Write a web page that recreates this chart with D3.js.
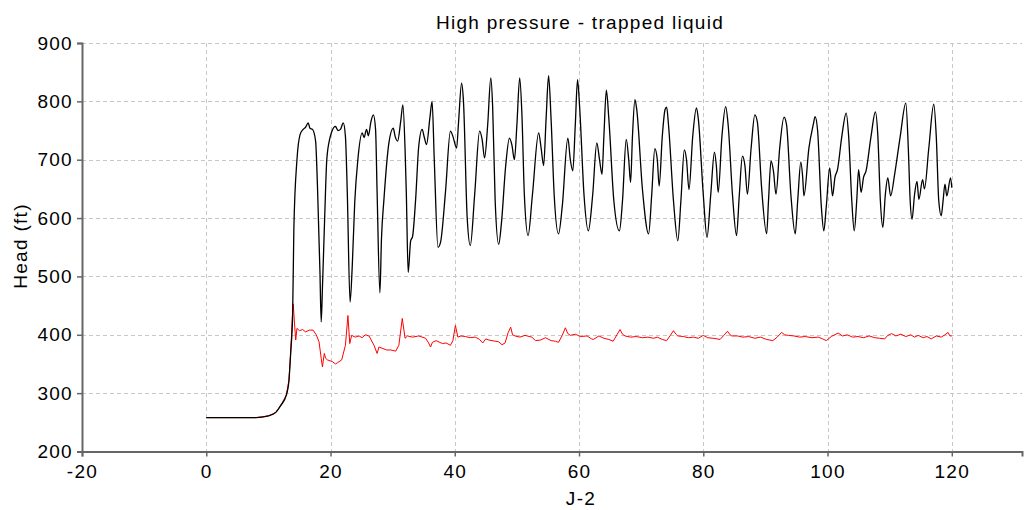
<!DOCTYPE html>
<html lang="en">
<head>
    <meta charset="UTF-8">
    <title>High pressure - trapped liquid</title>
    <script src="https://d3js.org/d3.v7.min.js"></script>
    <style>
        body, html {
            margin: 0;
            padding: 0;
            background: #fff;
        }
        svg text {
            font-family: "Liberation Sans", Arial, sans-serif;
            font-size: 19px;
            letter-spacing: 1.3px;
            fill: #000;
        }
    </style>
</head>
<body>
    <script>
        // Chart text
        const chartTitle = "High pressure - trapped liquid";
        const xLabel = "J-2";
        const yLabel = "Head (ft)";

        // Tick values
        const xTicks = [-20, 0, 20, 40, 60, 80, 100, 120];
        const yTicks = [200, 300, 400, 500, 600, 700, 800, 900];

        // Black series: [time, head]
        const blackSeries = [
            [0,258],[8,258],[10,261],[11.2,267],[12,279],[12.9,297],[13.3,320],[13.6,371],[13.9,433],
            [14.1,581],[14.6,700],[15.1,743],[15.6,752],[16.0,756],[16.4,763],[16.7,754],[17.1,752],
            [17.6,732],[17.9,655],[18.3,508],[18.5,422],[18.7,480],[19.07,604],[19.4,700],[19.9,737],
            [20.2,748],[20.8,757],[21.2,750],[21.6,752],[22.05,763],[22.4,740],[22.7,644],[23.15,456],
            [23.5,518],[23.9,627],[24.4,700],[25.1,746],[25.4,738],[25.8,752],[26.1,741],[26.5,765],
            [26.9,777],[27.25,752],[27.5,644],[27.95,472],[28.2,564],[28.6,632],[29.4,729],[30.1,754],
            [30.4,740],[30.8,732],[31.3,766],[31.65,794],[32.0,718],[32.2,644],[32.5,507],[32.9,561],
            [33.2,568],[33.7,632],[34.2,723],[34.75,752],[35.1,738],[35.45,726],[36.0,772],[36.35,800],
            [36.7,700],[37.3,550],[37.7,558],[38.5,644],[39.3,749],[39.7,740],[40.3,720],[40.6,763],
            [41.1,831],[41.4,800],[42.0,600],[42.5,553],[43.2,640],[44.0,749],[44.4,735],[44.8,703],
            [45.3,760],[45.8,840],[46.1,790],[46.5,630],[47.07,555],[47.5,590],[48.2,690],[48.8,737],
            [49.2,725],[49.6,700],[50.0,760],[50.45,840],[50.8,780],[51.2,640],[51.8,570],[52.5,640],
            [53.5,746],[53.9,720],[54.3,690],[54.7,770],[55.1,844],[55.5,770],[56.0,640],[56.7,573],
            [57.3,620],[58.2,737],[58.6,700],[59.0,681],[59.4,760],[59.76,837],[60.1,790],[60.8,640],
            [61.5,578],[62.2,640],[62.86,729],[63.3,700],[63.7,675],[64.0,740],[64.4,819],[64.8,770],
            [65.6,630],[66.5,578],[67.0,630],[67.6,735],[68.0,700],[68.3,661],[68.6,740],[69.0,803],
            [69.3,785],[70.2,650],[71.2,573],[71.7,640],[72.2,719],[72.6,700],[72.9,655],[73.4,740],
            [73.85,786],[74.1,790],[74.4,760],[75.2,630],[75.9,561],[76.4,630],[76.95,717],[77.3,700],
            [77.7,649],[78.3,740],[78.9,789],[79.2,770],[80.0,640],[80.6,567],[81.2,640],[81.8,713],
            [82.1,690],[82.4,644],[83.0,740],[83.6,791],[84.0,760],[84.7,640],[85.35,570],[85.8,640],
            [86.3,706],[86.7,690],[87.1,641],[87.7,720],[88.3,777],[88.7,765],[89.4,650],[90.2,573],
            [90.5,630],[90.9,698],[91.3,680],[91.7,641],[92.3,720],[93.0,773],[93.4,760],[94.1,640],
            [94.8,573],[95.2,630],[95.7,696],[96.0,670],[96.2,638],[97.0,720],[97.7,760],[98.0,774],
            [98.4,750],[99.0,620],[99.4,578],[99.8,620],[100.35,686],[100.8,638],[101.2,670],[101.6,683],
            [102.3,740],[103.0,780],[103.4,740],[103.9,630],[104.3,578],[104.7,630],[105.0,683],[105.4,644],
            [105.8,670],[106.2,681],[107.0,740],[107.7,782],[108.1,740],[108.5,630],[108.9,584],[109.3,640],
            [109.7,669],[110.15,638],[110.8,675],[111.7,740],[112.6,797],[113.0,720],[113.3,630],[113.6,598],
            [114.0,640],[114.4,663],[114.7,632],[115.3,666],[115.6,650],[116.3,720],[117.1,795],[117.5,740],
            [117.9,630],[118.3,604],[118.6,630],[118.9,658],[119.2,638],[119.8,669],[120,652]
        ];

        // Red series: [time, head]
        const redSeries = [
            [0,258],[8,258],[10,261],[11.2,267],[12,279],[12.9,297],[13.3,322],[13.6,372],[13.85,430],
            [14.0,453],[14.2,420],[14.4,391],[14.6,411],[15.0,407],[15.5,409],[16.0,405],[16.6,408],
            [17.2,408],[17.7,400],[18.15,388],[18.5,360],[18.7,345],[19.0,368],[19.2,360],[19.5,357],
            [20.3,354],[20.8,350],[21.1,352],[21.8,357],[22.4,382],[22.8,433],[23.1,385],[23.4,399],
            [24.0,396],[24.6,398],[25.1,395],[25.6,400],[26.2,398],[27.0,382],[27.5,368],[27.8,379],
            [28.3,377],[29.0,374],[29.7,374],[30.5,372],[31.0,382],[31.55,428],[32.0,394],[32.4,398],
            [33.2,396],[34.2,398],[35.3,394],[35.8,386],[36.1,379],[36.4,387],[37.0,390],[38.0,385],
            [38.6,386],[39.3,382],[39.7,390],[40.1,416],[40.5,396],[41.0,398],[41.7,397],[42.5,395],
            [43.3,396],[44.0,392],[44.5,386],[45.0,393],[45.5,391],[46.5,389],[47.07,388],[47.6,383],
            [48.1,386],[48.6,404],[49.0,413],[49.3,400],[49.7,398],[50.5,396],[51.3,399],[52.4,396],
            [53.0,390],[53.8,391],[54.6,395],[55.5,390],[56.2,389],[56.7,387],[57.3,399],[57.8,412],
            [58.2,402],[58.6,399],[59.4,401],[60.2,397],[61.3,398],[62.0,393],[62.3,392],[63.2,398],
            [64.0,394],[64.8,392],[65.5,389],[66.1,400],[66.6,409],[67.0,401],[67.4,398],[68.3,396],
            [69.2,397],[70.2,395],[71.1,396],[72.0,394],[72.6,396],[73.4,392],[74.1,390],[74.7,399],
            [75.2,407],[75.6,401],[75.9,398],[76.8,397],[77.6,395],[78.4,396],[79.2,394],[80.0,399],
            [80.7,395],[81.6,394],[82.2,393],[82.7,392],[83.3,399],[83.9,406],[84.3,400],[84.6,398],
            [85.5,398],[86.4,396],[87.3,397],[88.3,394],[89.2,396],[90.2,392],[91.2,390],[91.9,396],
            [92.6,404],[93.1,400],[93.7,399],[94.6,398],[95.5,396],[96.4,397],[97.5,395],[98.5,396],
            [99.2,393],[99.8,390],[100.6,397],[101.7,403],[102.4,398],[103.2,400],[104.0,396],[104.9,397],
            [105.8,395],[106.7,398],[107.6,395],[108.4,394],[109.2,393],[109.7,399],[110.3,402],[111.0,398],
            [111.8,401],[112.6,397],[113.4,400],[114.0,396],[114.6,399],[115.4,395],[116.0,397],[116.7,393],
            [117.5,398],[118.3,396],[118.9,400],[119.4,404],[119.7,398],[120,398]
        ];

        // Set SVG dimensions
        const width = 1026;
        const height = 510;
        const margin = {top: 43, right: 4, bottom: 58.5, left: 82};

        const svg = d3.select("body")
            .append("svg")
            .attr("width", width)
            .attr("height", height);

        // Scales
        const x = d3.scaleLinear()
            .domain([-20, 131.3])
            .range([margin.left, width - margin.right]);
        const y = d3.scaleLinear()
            .domain([200, 900])
            .range([height - margin.bottom, margin.top]);

        // Dashed grid
        const grid = svg.append("g")
            .attr("stroke", "#c8c8c8")
            .attr("stroke-width", 1)
            .attr("stroke-dasharray", "4,3");

        grid.selectAll(".vgrid")
            .data(xTicks.filter(d => d > -20))
            .enter()
            .append("line")
            .attr("x1", d => Math.round(x(d)) + 0.5)
            .attr("x2", d => Math.round(x(d)) + 0.5)
            .attr("y1", y(900))
            .attr("y2", y(200));

        grid.selectAll(".hgrid")
            .data(yTicks.filter(d => d > 200))
            .enter()
            .append("line")
            .attr("x1", x(-20))
            .attr("x2", width - margin.right)
            .attr("y1", d => Math.round(y(d)) + 0.5)
            .attr("y2", d => Math.round(y(d)) + 0.5);

        // Lines
        const redLine = d3.line()
            .x(d => x(d[0]))
            .y(d => y(d[1]));
        const blackLine = d3.line()
            .curve(d3.curveMonotoneX)
            .x(d => x(d[0]))
            .y(d => y(d[1]));

        svg.append("path")
            .datum(redSeries)
            .attr("fill", "none")
            .attr("stroke", "#ff0000")
            .attr("stroke-width", 1)
            .attr("d", redLine);

        svg.append("path")
            .datum(blackSeries)
            .attr("fill", "none")
            .attr("stroke", "#000")
            .attr("stroke-width", 1.3)
            .attr("d", blackLine);

        // Axes
        const xAxis = svg.append("g")
            .attr("transform", `translate(0,${y(200)})`)
            .call(d3.axisBottom(x).tickValues(xTicks).tickFormat(d => String(d)).tickSize(5).tickPadding(8));
        const yAxis = svg.append("g")
            .attr("transform", `translate(${x(-20)},0)`)
            .call(d3.axisLeft(y).tickValues(yTicks).tickFormat(d => String(d)).tickSize(5).tickPadding(4));

        [xAxis, yAxis].forEach(a => {
            a.select(".domain").attr("stroke", "#666").attr("stroke-width", 2);
            a.selectAll(".tick line").attr("stroke", "#666").attr("stroke-width", 1.5);
            a.selectAll("text").attr("font-size", null).attr("font-family", null).attr("fill", "#000");
        });

        // Title and axis labels
        svg.append("text")
            .attr("x", 580)
            .attr("y", 29)
            .attr("text-anchor", "middle")
            .text(chartTitle);

        svg.append("text")
            .attr("x", 581)
            .attr("y", 505)
            .attr("text-anchor", "middle")
            .text(xLabel);

        svg.append("text")
            .attr("transform", "translate(27,246) rotate(-90)")
            .attr("text-anchor", "middle")
            .text(yLabel);
    </script>
</body>
</html>
